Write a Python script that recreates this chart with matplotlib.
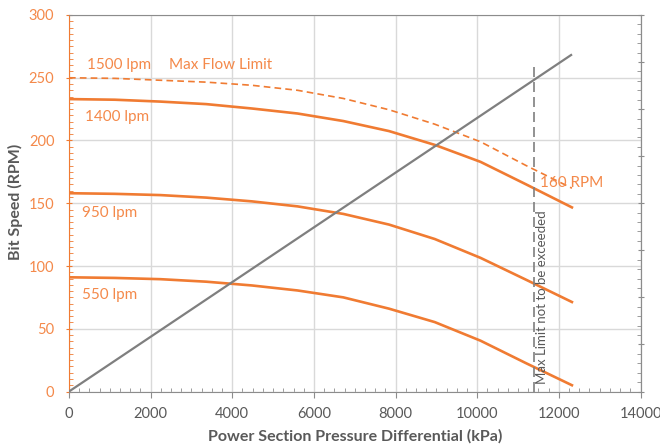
import matplotlib
matplotlib.use("Agg")
import matplotlib.pyplot as plt
from matplotlib.ticker import MultipleLocator

plt.rcParams['font.family'] = ['Lato', 'DejaVu Sans']

# ---- data ----
pressure = [0, 1120, 2240, 3360, 4480, 5600, 6720, 7840, 8960, 10080, 11200, 12320]
rpm_1500 = [250, 249.5, 248, 246.5, 244, 240, 233.5, 224.5, 213, 199, 180, 162]
rpm_1400 = [233, 232.5, 231, 229, 225.5, 221.5, 215.5, 207.5, 196.5, 183, 165, 146.7]
rpm_950 = [158, 157.5, 156.5, 154.5, 151.5, 147.5, 141.5, 133, 121.5, 106.5, 89, 71.3]
rpm_550 = [91, 90.5, 89.5, 87.5, 84.5, 80.5, 75, 66, 55.3, 40.5, 22.5, 5]
torque_x = [0, 12300]
torque_y = [0, 7.15]
limit_x = 11400
limit_top = 7.0

x_ticks = [0, 2000, 4000, 6000, 8000, 10000, 12000, 14000]
y_ticks = [0, 50, 100, 150, 200, 250, 300]
y2_ticks = [0, 1, 2, 3, 4, 5, 6, 7, 8]

ORANGE = '#F07B32'
ORANGE_T = '#F4894A'
GRAY = '#7F7F7F'
TXT = '#595959'
GRID = '#D9D9D9'

fig = plt.figure(figsize=(6.6, 4.46), dpi=100)
ax = fig.add_axes([69/660, 1-391.5/446, (640.5-69)/660, (391.5-15)/446])
ax2 = ax.twinx()

ax.set_xlim(0, 14000)
ax.set_ylim(0, 300)
ax2.set_ylim(0, 8)

ax.set_xticks(x_ticks)
ax.set_yticks(y_ticks)
ax2.set_yticks(y2_ticks)
ax.xaxis.set_minor_locator(MultipleLocator(250))
ax.yaxis.set_minor_locator(MultipleLocator(5))
ax2.yaxis.set_minor_locator(MultipleLocator(0.2))

ax.grid(True, which='major', color=GRID, linewidth=1.0)
ax.set_axisbelow(True)

for sp in ['top', 'right', 'bottom']:
    ax.spines[sp].set_color('#8C8C8C')
ax.spines['left'].set_color(ORANGE)
for sp in ['top', 'bottom', 'left']:
    ax2.spines[sp].set_visible(False)
ax2.spines['right'].set_color('#8C8C8C')

ax.tick_params(axis='x', which='major', direction='out', length=4, color='#8C8C8C',
               labelcolor=TXT, labelsize=10.5, pad=7)
ax.tick_params(axis='x', which='minor', direction='in', length=3, color='#8C8C8C')
ax.tick_params(axis='y', which='major', direction='inout', length=5, color=ORANGE,
               labelcolor=ORANGE_T, labelsize=10.5, pad=8)
ax.tick_params(axis='y', which='minor', direction='in', length=3, color=ORANGE)
ax2.tick_params(axis='y', which='major', direction='inout', length=5, color='#8C8C8C',
                labelcolor=TXT, labelsize=10.5, pad=13)
ax2.tick_params(axis='y', which='minor', direction='in', length=3, color='#8C8C8C')

# curves
ax.plot(pressure, rpm_1500, color=ORANGE, linewidth=1.2, linestyle=(0, (4, 2.5)), zorder=3)
ax.plot(pressure, rpm_1400, color=ORANGE, linewidth=1.9, zorder=3)
ax.plot(pressure, rpm_950, color=ORANGE, linewidth=1.9, zorder=3)
ax.plot(pressure, rpm_550, color=ORANGE, linewidth=1.9, zorder=3)

ax2.plot(torque_x, torque_y, color=GRAY, linewidth=1.6, zorder=3)
ax2.plot([limit_x, limit_x], [0, limit_top], color=GRAY, linewidth=1.2,
         linestyle=(0, (6, 3)), zorder=3)

# labels
fs = 11
ax.text(450, 260, '1500 lpm', color=ORANGE_T, fontsize=fs, va='center', ha='left')
ax.text(2450, 260, 'Max Flow Limit', color=ORANGE_T, fontsize=fs, va='center', ha='left')
ax.text(400, 219, '1400 lpm', color=ORANGE_T, fontsize=fs, va='center', ha='left')
ax.text(330, 142.5, '950 lpm', color=ORANGE_T, fontsize=fs, va='center', ha='left')
ax.text(330, 76.5, '550 lpm', color=ORANGE_T, fontsize=fs, va='center', ha='left')
ax.text(12320, 166.5, '160 RPM', color=ORANGE_T, fontsize=fs, va='center', ha='center')
ax.text(limit_x + 180, 6, 'Max Limit not to be exceeded', color=TXT, fontsize=9.5,
        rotation=90, va='bottom', ha='center')

fig.text(355/660, 1-436/446, 'Power Section Pressure Differential (kPa)', color=TXT,
         fontsize=11.5, fontweight='bold', ha='center', va='center')
fig.text(15/660, 1-202/446, 'Bit Speed (RPM)', color=TXT, fontsize=11.5, fontweight='bold',
         ha='center', va='center', rotation=90)

fig.savefig('out.png', dpi=100)
